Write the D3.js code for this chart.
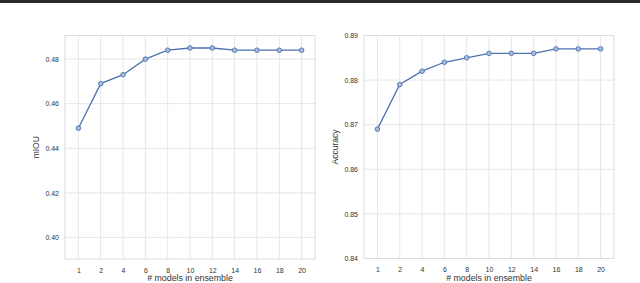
<!DOCTYPE html>
<html><head><meta charset="utf-8">
<script src="https://cdn.jsdelivr.net/npm/d3@7"></script>
<style>body{margin:0;background:#fff;}svg{display:block;font-family:"Liberation Sans",Arial,sans-serif;}</style>
</head><body>
<script>
const categories = ["1","2","4","6","8","10","12","14","16","18","20"];
const miouValues = [0.449,0.469,0.473,0.480,0.484,0.485,0.485,0.484,0.484,0.484,0.484];
const accValues = [0.869,0.879,0.882,0.884,0.885,0.886,0.886,0.886,0.887,0.887,0.887];
const miouTicks = [0.40,0.42,0.44,0.46,0.48];
const accTicks = [0.84,0.85,0.86,0.87,0.88,0.89];
const xLabel = "# models in ensemble";

const W=640,H=283;
const svg=d3.select("body").append("svg").attr("width",W).attr("height",H);
svg.append("rect").attr("x",0).attr("y",0).attr("width",W).attr("height",3).attr("fill","#2b2b2b");

function panel(opts){
  const {x0,x1,y0,y1,values,domain,ticks,ylabel,ylabelX}=opts;
  const g=svg.append("g");
  const x=d3.scalePoint().domain(categories).range([x0,x1]).padding(0.6);
  const y=d3.scaleLinear().domain(domain).range([y1,y0]);
  g.selectAll("line.vg").data(categories).join("line")
    .attr("x1",d=>x(d)).attr("x2",d=>x(d)).attr("y1",y0).attr("y2",y1)
    .attr("stroke","#e6e6e6").attr("stroke-width",1);
  g.selectAll("line.hg").data(ticks).join("line")
    .attr("x1",x0).attr("x2",x1).attr("y1",d=>y(d)).attr("y2",d=>y(d))
    .attr("stroke","#e6e6e6").attr("stroke-width",1);
  g.append("rect").attr("x",x0).attr("y",y0).attr("width",x1-x0).attr("height",y1-y0)
    .attr("fill","none").attr("stroke","#dcdcdc").attr("stroke-width",1);
  const xa=g.append("g").attr("transform",`translate(0,${y1})`)
    .call(d3.axisBottom(x).tickSize(0).tickPadding(9));
  xa.select(".domain").remove();
  xa.selectAll("text").attr("font-size",7).attr("fill","#333").attr("font-family","Liberation Sans, Arial, sans-serif");
  const ya=g.append("g").attr("transform",`translate(${x0},0)`)
    .call(d3.axisLeft(y).tickValues(ticks).tickFormat(d3.format(".2f")).tickSize(0).tickPadding(6));
  ya.select(".domain").remove();
  ya.selectAll("text").attr("font-size",7).attr("fill","#333").attr("font-family","Liberation Sans, Arial, sans-serif");
  g.append("text").attr("x",(x0+x1)/2).attr("y",y1+22).attr("text-anchor","middle")
    .attr("font-size",8.8).attr("fill","#333").text(xLabel);
  g.append("text").attr("transform",`translate(${ylabelX},${(y0+y1)/2}) rotate(-90)`)
    .attr("text-anchor","middle").attr("font-size",8.5).attr("fill","#333").text(ylabel);
  const line=d3.line().x((d,i)=>x(categories[i])).y(d=>y(d));
  g.append("path").datum(values).attr("d",line).attr("fill","none")
    .attr("stroke","#4c72b0").attr("stroke-width",1.3);
  g.selectAll("circle").data(values).join("circle")
    .attr("cx",(d,i)=>x(categories[i])).attr("cy",d=>y(d)).attr("r",2.3)
    .attr("fill","#a9bbdc").attr("stroke","#4c72b0").attr("stroke-width",0.9);
}
panel({x0:65,x1:315,y0:35.5,y1:259,values:miouValues,domain:[0.3903,0.4906],ticks:miouTicks,ylabel:"mIOU",ylabelX:39});
panel({x0:364,x1:614,y0:35.5,y1:258.5,values:accValues,domain:[0.84,0.89],ticks:accTicks,ylabel:"Accuracy",ylabelX:338});
</script>
</body></html>
